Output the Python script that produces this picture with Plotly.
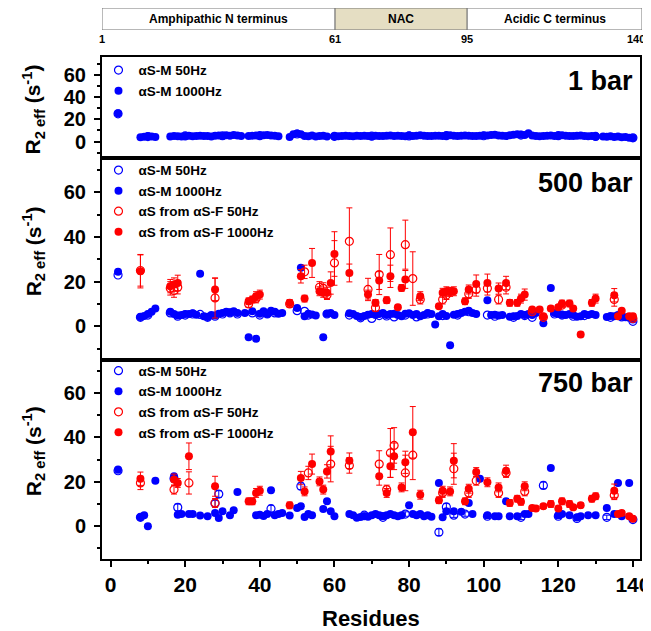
import plotly.graph_objects as go

# ---------------- domain bar ----------------
domain_names = ["Amphipathic N terminus", "NAC", "Acidic C terminus"]
domain_start = [1, 61, 95]
domain_end = [61, 95, 140]
domain_colors = ["#ffffff", "#e5dec3", "#ffffff"]
domain_ticks = [1, 61, 95, 140]

panel_labels = ["1 bar", "500 bar", "750 bar"]
series_names = ["αS-M 50Hz", "αS-M 1000Hz", "αS from αS-F 50Hz", "αS from αS-F 1000Hz"]

# ---------------- 1 bar ----------------
res_1bar_m1000 = [2, 8, 9, 10, 11, 12,
                  16, 17, 18, 19, 20, 21, 22, 23, 24, 25, 26, 27, 28, 29, 30, 31, 32, 33, 34, 35,
                  37, 38, 39, 40, 41, 42, 43, 44, 45,
                  48, 49, 50, 51, 52, 53, 54, 55, 56, 57, 58,
                  60, 61, 62, 63, 64, 65, 66, 67, 68, 69, 70, 71, 72, 73, 74, 75, 76, 77, 78, 79,
                  80, 81, 82, 83, 84, 85, 86, 87, 88, 89, 90, 91, 92, 93, 94, 95, 96, 97, 98, 99,
                  100, 101, 102, 103, 104, 105, 106, 107, 108, 109, 110, 111, 112, 113, 114, 115,
                  116, 117, 118, 119, 120, 121, 122, 123, 124, 125, 126, 127, 128, 129, 130,
                  132, 133, 134, 135, 136, 137, 138, 139, 140]
r2_1bar_m1000 = [25.5, 3.8, 4.2, 4.8, 4.5, 4.0,
                 4.6, 5.0, 4.8, 4.5, 5.0, 5.2, 4.7, 5.0, 5.3, 4.9, 5.0, 4.6, 5.2, 5.5, 5.0, 5.6, 5.2, 5.8, 5.4, 5.0,
                 5.0, 5.3, 5.5, 5.2, 5.6, 5.8, 5.4, 5.1, 4.8,
                 4.0, 6.5, 7.2, 6.5, 5.0, 4.8, 5.5, 4.5, 5.0, 5.2, 4.6,
                 4.6, 4.8, 5.0, 5.2, 5.0, 4.7, 5.1, 4.9, 5.3, 5.0, 4.8, 5.2, 5.0, 4.9, 5.1, 5.4, 5.0, 5.2, 5.0, 4.8,
                 5.5, 5.0, 5.2, 5.6, 5.1, 4.9, 5.0, 5.3, 5.2, 5.0, 5.4, 5.6, 5.2, 5.0, 5.3, 5.5, 5.1, 5.0, 4.9, 5.2,
                 5.4, 5.5, 5.8, 6.0, 5.5, 5.2, 5.0, 5.6, 6.2, 6.5, 6.0, 5.8, 7.5, 5.5, 5.0, 4.8,
                 5.0, 5.3, 5.5, 5.0, 5.2, 5.6, 5.3, 5.0, 4.9, 5.2, 5.5, 5.0, 4.7, 5.0, 4.6,
                 4.5, 4.2, 4.8, 4.0, 4.6, 3.8, 4.0, 3.5, 3.2]
res_1bar_m50 = [2, 10, 20, 30, 40, 50, 60, 70, 80, 90, 100, 110, 120, 130, 140]
r2_1bar_m50 = [25.0, 4.5, 5.0, 5.2, 5.3, 6.8, 4.7, 4.8, 5.0, 5.3, 5.2, 5.8, 5.3, 4.6, 3.3]

# ---------------- 500 bar ----------------
res_500_m1000 = [2, 8, 9, 10, 11, 12,
                 16, 17, 18, 19, 20, 21, 22, 23, 24, 25, 26, 27, 28, 29, 30, 31, 32, 33, 34,
                 36, 37, 38, 39, 40, 41, 42, 43, 44, 45, 46,
                 50, 51, 52, 53, 54, 55, 57, 58, 59, 60,
                 64, 65, 66, 67, 68, 69, 70, 71, 72, 73, 74, 75, 76, 77, 78, 79, 80, 81, 82, 83,
                 84, 85, 86, 87, 88, 89, 90, 91, 92, 93, 94, 95, 96, 97, 98,
                 101, 102, 103, 104, 105, 107, 108, 109, 110, 111, 112, 113, 114, 116, 118,
                 119, 120, 121, 122, 123, 124, 125, 126, 127, 128, 129, 130,
                 133, 134, 135, 136, 137, 138, 139, 140]
r2_500_m1000 = [24.5, 4.2, 4.6, 5.5, 6.5, 8.0,
                6.5, 5.5, 4.8, 5.0, 5.5, 5.5, 5.8, 5.2, 23.5, 4.5, 4.1, 5.0, 4.8, 5.6, 6.0, 6.5, 6.2, 6.7, 6.0,
                6.0, -4.9, 6.7, -5.6, 5.6, 6.7, 5.5, 7.0, 6.5, 5.6, 6.0,
                8.2, 26.2, 4.5, 5.6, 5.3, 4.8, -4.9, 5.6, 6.0, 5.0,
                5.8, 5.5, 4.6, 4.2, 4.6, 5.2, 5.5, 5.0, 5.5, 6.0, 5.0, 5.5, 5.6, 5.0, 4.5, 5.6, 5.8, 5.0, 5.5, 4.5,
                5.0, 6.0, 5.5, 0.8, 4.5, 5.5, 4.6, -8.5, 5.2, 5.5, 6.0, 6.5, 7.0, 6.0, 5.5,
                11.7, 5.0, 5.2, 4.8, 5.0, 4.3, 4.5, 4.6, 5.5, 5.0, 5.5, 5.0, 6.0, 1.3, 17.2,
                6.0, 5.5, 5.2, 5.0, 5.5, 5.0, 4.3, 4.5, 5.5, 5.0, 5.5, 5.0,
                4.2, 4.6, 4.5, 5.0, 4.5, 4.0, 3.8, 3.0]
res_500_m50 = [2, 8, 10, 16, 18, 20, 22, 24, 26, 28, 30, 32, 34, 38, 40, 42, 44, 50, 52, 53, 58,
               64, 67, 70, 72, 74, 76, 79, 82, 85, 89, 93, 96, 101, 103, 108, 111, 113,
               119, 121, 124, 127, 134, 137, 140]
r2_500_m50 = [23.0, 4.0, 5.0, 6.0, 4.5, 5.0, 5.5, 5.3, 4.0, 4.5, 5.5, 6.0, 5.5, 6.0, 5.0, 5.5, 6.0, 7.0, 6.7, 5.0, 5.5,
              5.0, 3.8, 3.5, 4.8, 4.6, 4.2, 5.0, 4.2, 5.5, 4.8, 5.0, 6.5, 5.0, 4.5, 4.0, 4.8, 4.0,
              5.5, 5.0, 4.5, 4.8, 4.0, 4.2, 2.2]
res_500_f1000 = [8, 16, 17, 18, 28, 37, 38, 39, 40, 48, 51, 52, 54, 56, 57, 58, 59, 60,
                 64, 69, 71, 72, 74, 75, 77, 78, 79, 83, 88, 89, 90, 91, 92, 95, 96, 98,
                 101, 104, 106, 107, 109, 110, 111, 113, 115, 116, 118, 120, 121, 123, 124,
                 126, 129, 130, 135, 136, 137, 139, 140]
r2_500_f1000 = [24.7, 18.0, 18.7, 19.4, 16.5, 11.2, 12.0, 13.5, 14.2, 10.5, 22.4, 12.4, 28.4, 15.7, 15.0, 15.0, 19.4, 32.4,
                23.9, 14.2, 10.5, 20.5, 11.7, 22.4, 8.5, 17.2, 21.0, 13.5, 9.0, 15.0, 15.7, 15.4, 15.7, 11.2, 16.5, 19.0,
                19.4, 16.9, 19.4, 10.5, 10.5, 12.4, 14.2, 7.5, 7.5, 4.5, 8.0, 8.5, 10.2, 10.2, 8.0,
                -3.7, 10.5, 12.4, 13.9, 4.5, 7.0, 4.5, 4.5]
err_500_f1000 = [7.5, 3.0, 3.0, 3.5, 5.0, 1.5, 1.5, 2.0, 2.0, 1.5, 3.0, 1.5, 6.5, 2.0, 2.0, 2.5, 5.0, 10.0,
                 4.0, 2.0, 1.5, 4.0, 1.5, 5.0, 1.0, 1.5, 4.0, 2.0, 1.0, 2.0, 2.0, 2.0, 2.0, 1.5, 2.0, 4.0,
                 4.0, 2.5, 3.0, 1.5, 1.5, 2.0, 2.5, 1.0, 1.0, 1.0, 1.0, 1.0, 1.5, 1.5, 1.0,
                 1.0, 1.5, 2.0, 3.0, 1.0, 1.0, 1.0, 1.0]
res_500_f50 = [8, 16, 17, 18, 28, 37, 39, 48, 52, 56, 57, 58, 60, 64, 69, 71, 72, 75, 79, 81, 83,
               89, 90, 96, 98, 101, 104, 106, 113, 116, 121, 135, 140]
r2_500_f50 = [25.0, 17.0, 16.0, 17.5, 12.7, 10.0, 12.5, 10.0, 24.4, 17.5, 17.0, 14.0, 28.4, 38.1, 16.5, 8.3, 23.2, 32.1, 36.6, 21.4, 12.0,
              12.0, 14.0, 14.5, 16.5, 17.0, 12.0, 17.5, 6.5, 4.0, 9.5, 12.0, 3.5]
err_500_f50 = [7.0, 3.0, 3.0, 3.0, 9.0, 1.5, 2.0, 1.5, 3.0, 2.5, 2.5, 2.0, 10.0, 15.0, 5.0, 1.5, 9.0, 12.0, 11.0, 12.0, 2.0,
               2.0, 2.0, 2.0, 3.0, 3.0, 2.0, 3.0, 1.0, 1.0, 1.0, 3.0, 1.0]

# ---------------- 750 bar ----------------
res_750_m1000 = [2, 8, 9, 10, 12,
                 17, 18, 19, 21, 22, 24, 26, 28, 29, 30, 32, 33, 34,
                 39, 40, 41, 42, 43, 44, 45, 46,
                 48, 50, 51, 52, 53, 54, 57, 58, 59, 60,
                 64, 65, 66, 67, 68, 69, 70, 71, 72, 73, 74, 75, 76, 77, 78,
                 80, 81, 82, 83, 84, 85, 86,
                 88, 89, 90, 92, 94, 96, 97, 99, 101, 103, 104,
                 106, 107, 109, 111, 112, 118, 120, 121, 123, 125, 126, 128, 130,
                 133, 135, 136, 137, 139]
r2_750_m1000 = [25.5, 4.0, 4.9, 0.0, 20.5,
                22.5, 5.2, 5.5, 5.5, 5.5, 4.8, 4.5, 6.0, 3.7, 6.7, 4.9, 7.2, 15.4,
                5.0, 5.2, 4.6, 5.5, 16.2, 5.0, 5.5, 6.0,
                4.8, 8.2, 9.0, 4.2, 5.5, 4.9, 7.8, 11.2, 6.7, 4.5,
                5.5, 5.0, 3.8, 4.2, 4.5, 4.3, 5.0, 5.5, 5.0, 4.6, 5.0, 5.5, 5.0, 4.5, 5.0,
                9.4, 5.5, 5.0, 5.5, 4.5, 5.0, 4.3,
                19.5, 4.0, 6.7, 6.7, 6.5, 10.5, 5.5, 21.4, 5.0, 4.5, 4.5,
                11.2, 4.5, 4.5, 5.5, 5.5, 26.2, 5.0, 5.5, 5.0, 4.0, 4.5, 5.0, 5.0,
                8.2, 5.5, 19.5, 4.5, 19.5]
res_750_m50 = [2, 8, 17, 18, 28, 29, 43, 51, 68, 73, 79, 88, 90, 92, 95, 101, 110, 116, 120, 125, 133, 140]
r2_750_m50 = [25.0, 4.0, 21.5, 8.5, 10.2, 14.5, 7.9, 18.0, 5.0, 4.0, 5.5, -2.7, 8.7, 5.0, 5.5, 4.5, 4.0, 18.4, 4.5, 3.5, 4.0, 3.0]
err_750_m50 = [1.0, 1.0, 1.5, 1.5, 1.5, 1.5, 1.5, 1.5, 1.0, 1.0, 1.0, 1.5, 1.5, 1.0, 1.0, 1.0, 1.0, 1.5, 1.0, 1.0, 1.0, 1.0]
res_750_f1000 = [8, 17, 18, 21, 28, 37, 38, 39, 40, 48, 51, 52, 54, 56, 57, 58, 59,
                 64, 72, 74, 75, 76, 78, 79, 81, 83, 88, 89, 91, 92, 95, 96, 98,
                 101, 104, 106, 107, 109, 110, 111, 113, 114, 116, 118, 120, 121, 123, 124, 126,
                 129, 130, 135, 136, 137, 139, 140]
r2_750_f1000 = [21.4, 21.0, 19.5, 31.5, 18.0, 11.2, 11.2, 15.0, 16.0, 9.4, 21.7, 15.7, 28.0, 20.2, 16.5, 24.7, 33.7,
                29.5, 22.5, 15.0, 27.0, 31.5, 17.5, 28.8, 42.3, 14.2, 11.7, 16.0, 15.7, 29.5, 11.2, 16.9, 24.4,
                19.8, 17.5, 25.0, 10.5, 12.4, 11.0, 18.0, 8.2, 8.0, 9.0, 10.0, 8.0, 11.2, 10.0, 8.5, 9.5,
                12.4, 13.5, 16.0, 5.5, 6.0, 4.5, 3.4]
err_750_f1000 = [3.0, 2.5, 2.0, 6.0, 4.5, 1.5, 1.5, 2.0, 2.0, 1.5, 3.0, 2.0, 4.5, 2.0, 2.0, 3.0, 7.0,
                 3.5, 4.0, 2.0, 5.0, 6.0, 2.0, 5.0, 11.6, 2.0, 1.5, 2.0, 2.0, 7.7, 1.5, 2.0, 2.0,
                 2.0, 2.0, 2.5, 1.5, 1.5, 1.5, 2.0, 1.0, 1.0, 1.0, 1.5, 1.0, 1.5, 1.5, 1.0, 1.0,
                 1.5, 1.5, 3.0, 1.0, 1.0, 1.0, 1.0]
res_750_f50 = [8, 17, 21, 28, 53, 59, 64, 72, 74, 75, 76, 79, 81, 89, 92, 96, 98, 104, 106, 111, 135]
r2_750_f50 = [19.5, 16.5, 19.5, 10.5, 24.0, 28.0, 27.4, 28.0, 16.5, 33.0, 36.4, 24.0, 32.0, 15.0, 25.9, 15.0, 20.5, 15.0, 24.0, 15.7, 14.0]
err_750_f50 = [3.0, 2.0, 5.0, 2.0, 3.0, 8.0, 3.5, 6.0, 2.0, 11.0, 8.0, 8.0, 11.0, 2.0, 7.0, 2.0, 2.0, 2.0, 2.0, 2.0, 2.0]

# ---------------- figure ----------------
FONT = "Liberation Sans, Arial, sans-serif"
BLUE = "#0000ff"
RED = "#ff0000"

fig = go.Figure()


def add(xs, ys, err, name, color, filled, xa, ya, leg, rank):
    if filled:
        marker = dict(color=color, size=8, line=dict(width=0))
    else:
        marker = dict(color=color, size=8, symbol="circle-open", line=dict(width=1.2, color=color))
    tr = go.Scatter(x=xs, y=ys, mode="markers", name="<b>" + name + "</b>", marker=marker,
                    xaxis=xa, yaxis=ya, legend=leg, legendrank=rank, cliponaxis=True)
    if err is not None:
        tr.error_y = dict(type="data", array=err, visible=True, color=color, thickness=1, width=3)
    fig.add_trace(tr)


# panel 1 (top) -> x3/y3, legend
add(res_1bar_m1000, r2_1bar_m1000, None, series_names[1], BLUE, True, "x3", "y3", "legend", 2)
add(res_1bar_m50, r2_1bar_m50, None, series_names[0], BLUE, False, "x3", "y3", "legend", 1)
# panel 2 -> x2/y2, legend2
add(res_500_m1000, r2_500_m1000, None, series_names[1], BLUE, True, "x2", "y2", "legend2", 2)
add(res_500_m50, r2_500_m50, None, series_names[0], BLUE, False, "x2", "y2", "legend2", 1)
add(res_500_f50, r2_500_f50, err_500_f50, series_names[2], RED, False, "x2", "y2", "legend2", 3)
add(res_500_f1000, r2_500_f1000, err_500_f1000, series_names[3], RED, True, "x2", "y2", "legend2", 4)
# panel 3 -> x/y, legend3
add(res_750_m1000, r2_750_m1000, None, series_names[1], BLUE, True, "x", "y", "legend3", 2)
add(res_750_m50, r2_750_m50, err_750_m50, series_names[0], BLUE, False, "x", "y", "legend3", 1)
add(res_750_f50, r2_750_f50, err_750_f50, series_names[2], RED, False, "x", "y", "legend3", 3)
add(res_750_f1000, r2_750_f1000, err_750_f1000, series_names[3], RED, True, "x", "y", "legend3", 4)

XR = [-2.3, 141.9]
XDOM = [0, 0.9963]
frame = dict(showline=True, linewidth=2, linecolor="black", mirror=True, showgrid=False, zeroline=False)
ytick = dict(ticks="outside", ticklen=6, tickwidth=1.5, tickcolor="black", tick0=0, dtick=20,
             ticklabelstandoff=4,
             minor=dict(ticks="outside", ticklen=3, tickwidth=1.5, tickcolor="black", tick0=0, dtick=10),
             tickfont=dict(size=20, family=FONT, weight="bold", color="black"))

legend_common = dict(bgcolor="rgba(0,0,0,0)", borderwidth=0, xanchor="left", yanchor="top",
                     tracegroupgap=0, itemclick=False,
                     font=dict(size=13.5, family=FONT, color="black"))

# the page adds an 8 px body margin, so the figure is drawn 8 px smaller
fig.update_layout(
    width=643, height=623,
    margin=dict(l=93.5, r=9, t=0, b=71.5),
    paper_bgcolor="white", plot_bgcolor="white",
    font=dict(family=FONT, color="black"),
    xaxis=dict(domain=XDOM, anchor="y", range=XR, **frame,
               ticks="outside", ticklen=6, tickwidth=1.5, tickcolor="black", tick0=0, dtick=20,
               minor=dict(ticks="outside", ticklen=3, tickwidth=1.5, tickcolor="black", tick0=0, dtick=10),
               tickfont=dict(size=21, family=FONT, weight="bold", color="black"), ticklabelstandoff=0),
    yaxis=dict(domain=[0, 0.3617], anchor="x", range=[-14.75, 75], **frame, **ytick),
    xaxis2=dict(domain=XDOM, anchor="y2", range=XR, **frame, showticklabels=False, ticks=""),
    yaxis2=dict(domain=[0.3617, 0.7275], anchor="x2", range=[-15, 75.4], **frame, **ytick),
    xaxis3=dict(domain=XDOM, anchor="y3", range=XR, **frame, showticklabels=False, ticks=""),
    yaxis3=dict(domain=[0.7275, 0.9106], anchor="x3", range=[-15, 76], **frame, **ytick),
    xaxis4=dict(domain=[0, 1], anchor="y4", range=[1, 140], visible=False),
    yaxis4=dict(domain=[0.9601, 1], anchor="x4", range=[0, 1], visible=False),
    legend=dict(x=-0.0065, y=0.915, **legend_common),
    legend2=dict(x=-0.0065, y=0.7335, **legend_common),
    legend3=dict(x=-0.0065, y=0.3695, **legend_common),
)

shapes = []
annotations = []
for name, s, e, c in zip(domain_names, domain_start, domain_end, domain_colors):
    shapes.append(dict(type="rect", xref="x4", yref="y4", x0=s, x1=e, y0=0, y1=1,
                       fillcolor=c, line=dict(color="#777777", width=1)))
    annotations.append(dict(xref="x4", yref="y4", x=(s + e) / 2, y=0.5, text="<b>" + name + "</b>",
                            showarrow=False, font=dict(size=12, family=FONT, color="black")))

# residue numbers under the domain bar
for t in domain_ticks:
    annotations.append(dict(xref="x4", yref="paper", x=t, y=0.9601, yanchor="top", yshift=-1,
                            xanchor="right" if t == domain_ticks[-1] else "center",
                            xshift=5 if t == domain_ticks[-1] else 0,
                            text="<b>" + str(t) + "</b>", showarrow=False,
                            font=dict(size=11, family=FONT, color="black")))

# panel labels
for lab, yy in zip(panel_labels, [0.8677, 0.6827, 0.32]):
    annotations.append(dict(xref="paper", yref="paper", x=0.987, y=yy, xanchor="right", yanchor="middle",
                            text="<b>" + lab + "</b>", showarrow=False,
                            font=dict(size=27, family=FONT, color="black")))

# y titles
for yy in [0.815, 0.5576, 0.1949]:
    annotations.append(dict(xref="paper", yref="paper", x=-0.1267, y=yy, xanchor="center", yanchor="middle",
                            textangle=-90, text="<b>R<sub>2 eff</sub> (s<sup>-1</sup>)</b>", showarrow=False,
                            font=dict(size=21, family=FONT, color="black")))

# x title
annotations.append(dict(xref="paper", yref="paper", x=0.498, y=-0.108, xanchor="center", yanchor="middle",
                        text="<b>Residues</b>", showarrow=False, font=dict(size=22, family=FONT, color="black")))

fig.update_layout(shapes=shapes, annotations=annotations)

fig.write_html("out.html")
